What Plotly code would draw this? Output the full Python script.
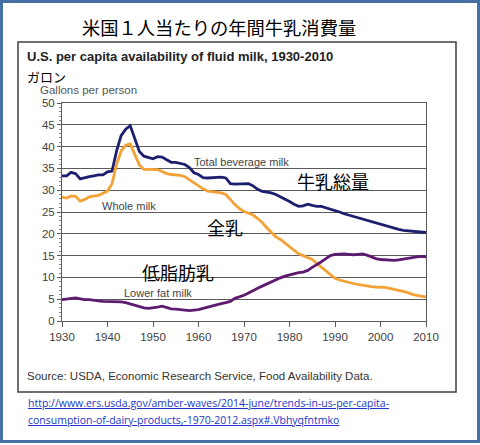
import plotly.graph_objects as go

years = list(range(1930, 2011))

total_beverage = [
    33.3, 33.3, 34.1, 33.8, 32.6, 32.9, 33.1, 33.3, 33.5, 33.5,  # 1930-39
    34.2, 34.4, 39.0, 42.5, 44.0, 44.8, 41.8, 38.9, 37.8, 37.5,  # 1940-49
    37.2, 37.7, 37.6, 37.0, 36.4, 36.4, 36.2, 35.9, 35.2, 34.0,  # 1950-59
    33.6, 32.9, 32.8, 32.9, 33.0, 33.0, 32.8, 31.5, 31.4, 31.4,  # 1960-69
    31.4, 31.5, 31.0, 30.2, 29.7, 29.6, 29.4, 29.0, 28.5, 28.0,  # 1970-79
    27.4, 26.8, 26.3, 26.4, 26.8, 26.5, 26.3, 26.3, 26.0, 25.7,  # 1980-89
    25.3, 25.0, 24.6, 24.3, 24.0, 23.7, 23.3, 23.0, 22.7, 22.4,  # 1990-99
    22.1, 21.8, 21.5, 21.3, 21.0, 20.8, 20.7, 20.6, 20.5, 20.4,  # 2000-09
    20.3,
]

whole_milk = [
    28.4, 28.2, 28.7, 28.6, 27.5, 27.9, 28.5, 28.7, 28.8, 29.3,
    29.8, 31.5, 36.0, 39.0, 40.3, 40.6, 38.2, 35.8, 34.8, 34.8,
    34.8, 34.7, 34.3, 33.8, 33.6, 33.5, 33.4, 33.1, 32.4, 31.6,
    30.9, 30.3, 29.8, 29.7, 29.6, 29.4, 29.0, 27.8, 26.7, 25.8,
    25.1, 24.7, 24.3, 23.5, 22.6, 21.4, 20.3, 19.3, 18.7, 17.9,
    17.1, 16.3, 15.4, 15.0, 14.6, 14.1, 13.2, 12.3, 11.4, 10.5,
    9.8, 9.4, 9.1, 8.8, 8.6, 8.4, 8.2, 8.0, 7.9, 7.8,
    7.8, 7.7, 7.5, 7.3, 7.1, 6.8, 6.5, 6.1, 5.9, 5.7,
    5.5,
]

lower_fat = [
    4.9, 5.0, 5.2, 5.3, 5.1, 4.9, 4.9, 4.7, 4.6, 4.5,
    4.5, 4.5, 4.5, 4.4, 4.2, 3.9, 3.5, 3.2, 3.0, 2.9,
    3.0, 3.2, 3.4, 3.1, 2.8, 2.7, 2.6, 2.5, 2.4, 2.5,
    2.6, 2.9, 3.2, 3.4, 3.7, 4.0, 4.2, 4.5, 5.2, 5.5,
    5.9, 6.4, 7.0, 7.5, 8.0, 8.5, 9.0, 9.5, 9.9, 10.3,
    10.6, 10.9, 11.1, 11.2, 11.6, 12.3, 12.9, 13.6, 14.3, 15.0,
    15.3, 15.4, 15.4, 15.3, 15.2, 15.3, 15.4, 15.1, 14.7, 14.3,
    14.1, 14.0, 13.9, 13.9, 14.0, 14.2, 14.3, 14.5, 14.7, 14.8,
    14.7,
]

x_ticks = [1930, 1940, 1950, 1960, 1970, 1980, 1990, 2000, 2010]
y_ticks = [0, 5, 10, 15, 20, 25, 30, 35, 40, 45, 50]

W, H = 480, 445
L, R, T, B = 62, 54, 103, 124
PW, PH = W - L - R, H - T - B


def px(x):
    return (x - L) / PW


def py(y):
    return (H - B - y) / PH


LAT = "Liberation Sans, Arial, sans-serif"
JP = "Noto Sans CJK JP, sans-serif"

fig = go.Figure()
fig.add_trace(go.Scatter(x=years, y=total_beverage, mode="lines",
                         line=dict(color="#1c1f6e", width=2.8), name="Total beverage milk"))
fig.add_trace(go.Scatter(x=years, y=whole_milk, mode="lines",
                         line=dict(color="#f4a235", width=2.8), name="Whole milk"))
fig.add_trace(go.Scatter(x=years, y=lower_fat, mode="lines",
                         line=dict(color="#5e1a6e", width=2.8), name="Lower fat milk"))

fig.update_layout(
    width=W, height=H,
    margin=dict(l=L, r=R, t=T, b=B, pad=0),
    paper_bgcolor="white", plot_bgcolor="white",
    showlegend=False,
    font=dict(family=LAT, color="#404040", size=12),
)
fig.update_xaxes(
    range=[1930, 2010], tickvals=x_ticks, ticktext=[str(v) for v in x_ticks],
    showgrid=False, zeroline=False,
    showline=True, mirror=True, linecolor="#5a5a5a", linewidth=1,
    ticks="outside", ticklen=5, tickcolor="#5a5a5a",
    tickfont=dict(size=11.5, color="#404040", family=LAT),
)
fig.update_yaxes(
    range=[0, 50], tickvals=y_ticks, ticktext=[str(v) for v in y_ticks],
    showgrid=True, gridcolor="#5a5a5a", gridwidth=1, zeroline=False,
    showline=True, mirror=True, linecolor="#5a5a5a", linewidth=1,
    ticks="outside", ticklen=4, tickcolor="#5a5a5a",
    minor=dict(dtick=1, ticks="outside", ticklen=2, tickcolor="#888888", showgrid=False),
    tickfont=dict(size=11.5, color="#404040", family=LAT),
)

shapes = [
    dict(type="rect", xref="paper", yref="paper",
         x0=px(1.5), x1=px(478.5), y0=py(1.5), y1=py(441.5),
         line=dict(color="#4470a3", width=3), fillcolor="rgba(0,0,0,0)", layer="above"),
    dict(type="rect", xref="paper", yref="paper",
         x0=px(18), x1=px(456), y0=py(42), y1=py(392),
         line=dict(color="#404040", width=1.5), fillcolor="rgba(0,0,0,0)", layer="above"),
]
fig.update_layout(shapes=shapes)


def ann(text, x, y, size, color="#000000", family=LAT, xanchor="left"):
    fig.add_annotation(text=text, xref="paper", yref="paper", x=px(x), y=py(y),
                       xanchor=xanchor, yanchor="middle", showarrow=False,
                       font=dict(size=size, color=color, family=family))


ann("米国１人当たりの年間牛乳消費量", 219, 27, 18.3, "#000000", JP, "center")
ann("<b>U.S. per capita availability of fluid milk, 1930-2010</b>", 25, 56, 13, "#222222")
ann("ガロン", 25, 76, 13, "#000000", JP)
ann("Gallons per person", 38, 90, 11.5, "#555555")
ann("Total beverage milk", 192, 162, 11, "#444444")
ann("Whole milk", 100, 206, 11, "#444444")
ann("Lower fat milk", 122, 293, 11, "#444444")
ann("牛乳総量", 295, 181, 18, "#000000", JP)
ann("全乳", 205, 227, 18, "#000000", JP)
ann("低脂肪乳", 140, 272, 18, "#000000", JP)
ann("Source: USDA, Economic Research Service, Food Availability Data.", 25, 376, 11.5, "#333333")
ann("<span style='text-decoration:underline'>http://www.ers.usda.gov/amber-waves/2014-june/trends-in-us-per-capita-</span>",
    26, 403, 10.5, "#2336c8", "Open Sans, sans-serif")
ann("<span style='text-decoration:underline'>consumption-of-dairy-products,-1970-2012.aspx#.Vbhyqfntmko</span>",
    26, 420, 10.5, "#2336c8", "Open Sans, sans-serif")

fig.write_html("out.html")
